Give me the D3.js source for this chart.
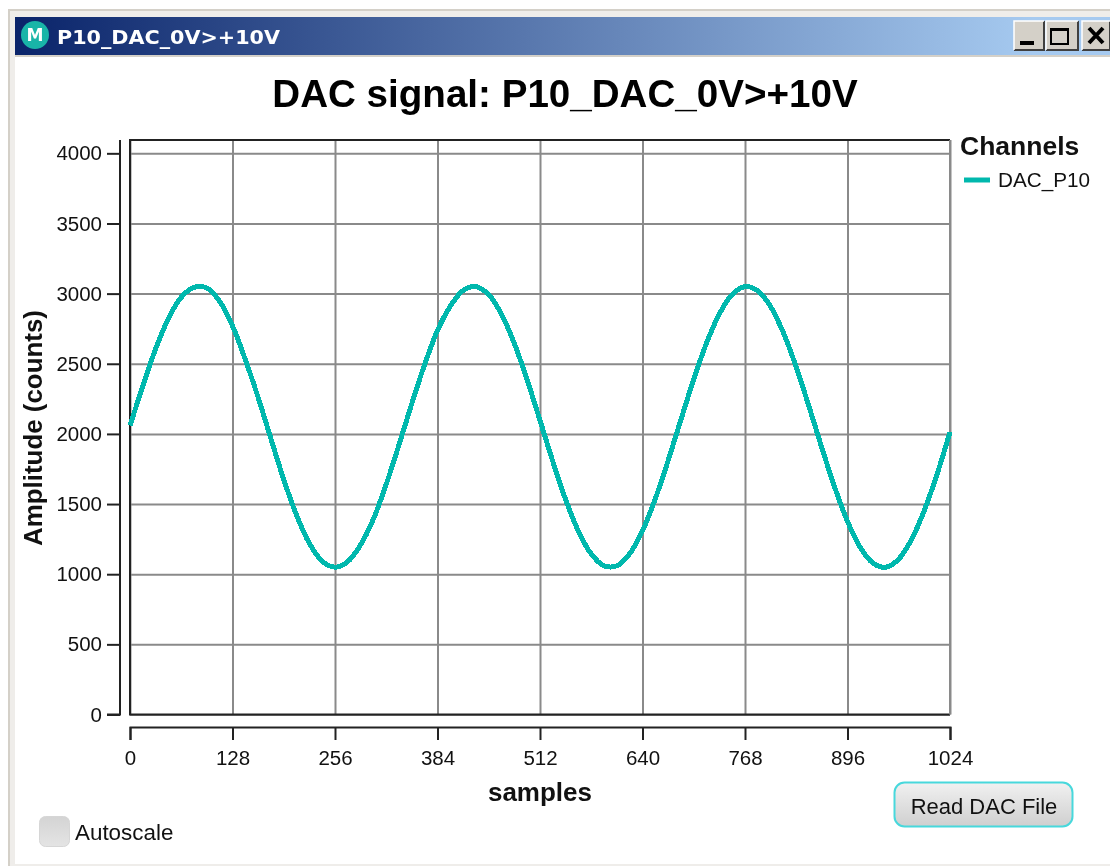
<!DOCTYPE html>
<html><head><meta charset="utf-8">
<script src="https://cdn.jsdelivr.net/npm/d3@7/dist/d3.min.js"></script>
<style>
html,body{margin:0;padding:0;background:#fff;overflow:hidden}
svg{display:block;filter:blur(0.45px)}
text{font-family:"Liberation Sans",Arial,sans-serif;fill:#111}
</style></head><body><svg id="c" width="1110" height="866"></svg>
<script>
const windowTitle = "P10_DAC_0V>+10V";
const chartTitle = "DAC signal: P10_DAC_0V>+10V";
const xLabel = "samples";
const yLabel = "Amplitude (counts)";
const legendTitle = "Channels";
const seriesName = "DAC_P10";
const xTicks = [0,128,256,384,512,640,768,896,1024];
const yTicks = [0,500,1000,1500,2000,2500,3000,3500,4000];
const sampleIndex = [0,16,32,48,64,80,96,112,128,144,160,176,192,208,224,240,256,272,288,304,320,336,352,368,384,400,416,432,448,464,480,496,512,528,544,560,576,592,608,624,640,656,672,688,704,720,736,752,768,784,800,816,832,848,864,880,896,912,928,944,960,976,992,1008,1024];
const amplitude = [2060,2340,2606,2823,2974,3045,3040,2945,2770,2530,2260,1965,1675,1420,1220,1093,1050,1090,1210,1394,1641,1924,2218,2496,2737,2910,3022,3050,2992,2852,2644,2384,2096,1804,1532,1306,1144,1060,1060,1146,1310,1538,1810,2102,2390,2648,2855,2994,3050,3020,2907,2720,2476,2194,1900,1620,1376,1190,1078,1050,1108,1248,1456,1716,2014];

const svg = d3.select("#c");
const defs = svg.append("defs");
const tg = defs.append("linearGradient").attr("id","tb");
tg.append("stop").attr("offset","0").attr("stop-color","#0a246a");
tg.append("stop").attr("offset","0.93").attr("stop-color","#a6caf0");
tg.append("stop").attr("offset","1").attr("stop-color","#a6caf0");
const bg = defs.append("linearGradient").attr("id","btn").attr("x2",0).attr("y2",1);
bg.append("stop").attr("offset","0").attr("stop-color","#f1f1f1");
bg.append("stop").attr("offset","1").attr("stop-color","#cfcfcf");
const cg = defs.append("linearGradient").attr("id","chk").attr("x2",0).attr("y2",1);
cg.append("stop").attr("offset","0").attr("stop-color","#d4d4d4");
cg.append("stop").attr("offset","1").attr("stop-color","#e4e4e4");

// window frame
svg.append("rect").attr("x",8).attr("y",9).attr("width",1102).attr("height",857).attr("fill","#d4d0c8");
svg.append("rect").attr("x",10).attr("y",11).attr("width",1100).attr("height",855).attr("fill","#efedea");
svg.append("rect").attr("x",15).attr("y",17).attr("width",1095).attr("height",847).attr("fill","#fff");
svg.append("rect").attr("x",15).attr("y",17).attr("width",1095).attr("height",38).attr("fill","url(#tb)");
svg.append("rect").attr("x",15).attr("y",55).attr("width",1095).attr("height",2).attr("fill","#d4d0c8");
svg.append("circle").attr("cx",35).attr("cy",35).attr("r",14).attr("fill","#19b5a8");
svg.append("text").attr("x",35).attr("y",41).attr("text-anchor","middle").style("font-size","17px").style("font-weight","bold").style("fill","#fff").style("font-family","DejaVu Sans").text("M").attr("textLength",17).attr("lengthAdjust","spacingAndGlyphs");
svg.append("text").attr("x",57).attr("y",44).style("font-family","DejaVu Sans").style("font-weight","bold").style("font-size","20px").style("fill","#fff").attr("textLength",223).attr("lengthAdjust","spacingAndGlyphs").text(windowTitle);

// caption buttons
const capBtn = svg.append("g");
[[1014,30],[1046,32],[1082,28]].forEach(([x,w])=>{
  capBtn.append("rect").attr("x",x).attr("y",21).attr("width",w).attr("height",29).attr("fill","#d4d0c8");
  capBtn.append("path").attr("d",`M${x+w} 21V50H${x}`).attr("fill","none").attr("stroke","#404040").attr("stroke-width",2);
  capBtn.append("path").attr("d",`M${x} 50V21H${x+w}`).attr("fill","none").attr("stroke","#fff").attr("stroke-width",1.5);
});
capBtn.append("rect").attr("x",1020).attr("y",41).attr("width",14).attr("height",4).attr("fill","#000");
capBtn.append("rect").attr("x",1051).attr("y",29).attr("width",17).attr("height",15).attr("fill","none").attr("stroke","#000").attr("stroke-width",2);
capBtn.append("rect").attr("x",1050).attr("y",28).attr("width",19).attr("height",3).attr("fill","#000");
capBtn.append("path").attr("d","M1089 28L1103 43M1103 28L1089 43").attr("stroke","#000").attr("stroke-width",4);

svg.append("text").attr("x",565).attr("y",107).attr("text-anchor","middle").style("font-weight","bold").style("font-size","38.6px").style("fill","#000").text(chartTitle);

// scales
const L=130,R=950,T=140,B=714.5;
const x = d3.scaleLinear().domain([0,1024]).range([L,R]);
const y = d3.scaleLinear().domain([0,4095]).range([B,T]);

// grid
const gx = svg.append("g").attr("transform",`translate(0,${B})`).call(d3.axisBottom(x).tickValues(xTicks).tickSize(-(B-T)).tickFormat(""));
const gy = svg.append("g").attr("transform",`translate(${L},0)`).call(d3.axisLeft(y).tickValues(yTicks).tickSize(-(R-L)).tickFormat(""));
[gx,gy].forEach(g=>{g.select(".domain").remove();g.selectAll("line").attr("stroke","#8a8a8a").attr("stroke-width",2);});

// plot border
svg.append("path").attr("d",`M${R} ${T}H${L}V${B}H${R}`).attr("fill","none").attr("stroke","#222").attr("stroke-width",2);
svg.append("path").attr("d",`M${R} ${T}V${B}`).attr("fill","none").attr("stroke","#8a8a8a").attr("stroke-width",2);

// series
const line = d3.line().x((d,i)=>x(sampleIndex[i])).y(d=>y(d)).curve(d3.curveCatmullRom);
svg.append("path").datum(amplitude).attr("d",line).attr("fill","none").attr("stroke","#00b8ad").attr("stroke-width",5).attr("shape-rendering","crispEdges");

// axes
const fmt = d3.format("d");
const ax = svg.append("g").attr("transform","translate(0,727)").call(d3.axisBottom(x).tickValues(xTicks).tickSize(13).tickSizeOuter(13).tickPadding(10).tickFormat(fmt));
const ay = svg.append("g").attr("transform","translate(120,0)").call(d3.axisLeft(y).tickValues(yTicks).tickSize(13).tickSizeOuter(0).tickPadding(5).tickFormat(fmt));
[ax,ay].forEach(g=>{
  g.select(".domain").attr("stroke","#222").attr("stroke-width",2);
  g.selectAll("line").attr("stroke","#222").attr("stroke-width",2);
  g.selectAll("text").style("font-size","20.5px").style("fill","#111");
});
ay.select(".domain").attr("d",`M-13 ${y(0)}H0V${T}`);

svg.append("text").attr("x",540).attr("y",801).attr("text-anchor","middle").style("font-weight","bold").style("font-size","26px").text(xLabel);
svg.append("text").attr("transform","translate(42,428) rotate(-90)").attr("text-anchor","middle").style("font-weight","bold").style("font-size","25.9px").text(yLabel);

// legend
svg.append("text").attr("x",960).attr("y",155).style("font-weight","bold").style("font-size","26.5px").text(legendTitle);
svg.append("line").attr("x1",964).attr("x2",990).attr("y1",180).attr("y2",180).attr("stroke","#00b8ad").attr("stroke-width",5);
svg.append("text").attr("x",998).attr("y",187).style("font-size","20.7px").text(seriesName);

// controls
svg.append("rect").attr("x",39.5).attr("y",816.5).attr("width",30).attr("height",30).attr("rx",6).attr("fill","url(#chk)").attr("stroke","#d6d6d6");
svg.append("text").attr("x",75).attr("y",840).style("font-size","22.4px").text("Autoscale");
svg.append("rect").attr("x",894.5).attr("y",782.5).attr("width",178).attr("height",44).attr("rx",10).attr("fill","url(#btn)").attr("stroke","#48d8dc").attr("stroke-width",2);
svg.append("text").attr("x",984).attr("y",814).attr("text-anchor","middle").style("font-size","22px").text("Read DAC File");
</script></body></html>
